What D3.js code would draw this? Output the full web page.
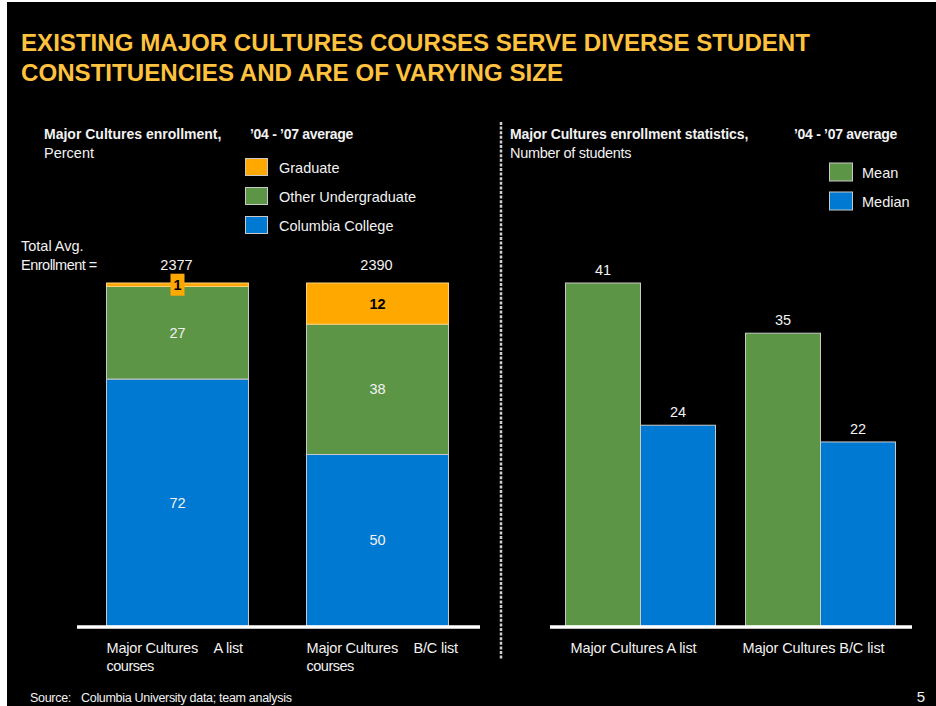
<!DOCTYPE html>
<html>
<head>
<meta charset="utf-8">
<script src="https://cdn.jsdelivr.net/npm/d3@7/dist/d3.min.js"></script>
<style>
  html, body { margin: 0; padding: 0; background: #ffffff; }
  svg { display: block; }
  text { font-family: "Liberation Sans", Arial, sans-serif; }
</style>
</head>
<body>
<svg id="chart" width="936" height="706"></svg>
<script>
// ---- Enrollment mix, percent of total (left panel) ----
const mixCourses = ["A list", "B/C list"];
const columbiaCollege = [72, 50];
const otherUndergraduate = [27, 38];
const graduate = [1, 12];
const totalEnrollment = [2377, 2390];

// ---- Enrollment statistics, number of students (right panel) ----
const statCourses = ["Major Cultures A list", "Major Cultures B/C list"];
const meanStudents = [41, 35];
const medianStudents = [24, 22];

const mixKeys = ["Columbia College", "Other Undergraduate", "Graduate"];
const statKeys = ["Mean", "Median"];

const colors = {
  "Graduate": "#FFA800",
  "Other Undergraduate": "#5C9545",
  "Columbia College": "#0079D2",
  "Mean": "#5C9545",
  "Median": "#0079D2"
};
const textColor = "#F2F2F2";
const outline = "#C9C9C9";

const svg = d3.select("#chart");

// slide background
svg.append("rect").attr("x", 7).attr("y", 2).attr("width", 929).attr("height", 704).attr("fill", "#000");

// headline
const titleLines = [
  { text: "EXISTING MAJOR CULTURES COURSES SERVE DIVERSE STUDENT", y: 51, w: 789 },
  { text: "CONSTITUENCIES AND ARE OF VARYING SIZE", y: 81, w: 542 }
];
svg.selectAll("text.title").data(titleLines).join("text")
  .attr("class", "title")
  .attr("x", 21).attr("y", d => d.y)
  .attr("textLength", d => d.w).attr("lengthAdjust", "spacingAndGlyphs")
  .attr("fill", "#FFC23E").attr("font-weight", "bold").attr("font-size", 23)
  .text(d => d.text);

function label(x, y, str, opts = {}) {
  return svg.append("text").attr("x", x).attr("y", y)
    .attr("fill", opts.fill || textColor)
    .attr("font-size", opts.size || 14.5)
    .attr("font-weight", opts.bold ? "bold" : null)
    .attr("text-anchor", opts.anchor || "start")
    .attr("letter-spacing", opts.ls != null ? opts.ls : 0)
    .text(str);
}

// ---------------- Left panel: stacked 100% bars ----------------
const yMix = d3.scaleLinear().domain([0, 100]).range([626, 283]);
const xMix = d3.scaleBand().domain(mixCourses).range([77.5, 477.5])
  .paddingInner(0.29).paddingOuter(0.145);

const mixRows = mixCourses.map((c, i) => ({
  course: c,
  "Columbia College": columbiaCollege[i],
  "Other Undergraduate": otherUndergraduate[i],
  "Graduate": graduate[i],
  total: totalEnrollment[i]
}));
const stacked = d3.stack().keys(mixKeys)(mixRows);

label(44, 139, "Major Cultures enrollment,", { bold: true, size: 14, ls: 0 });
label(250, 139, "\u201904 - \u201907 average", { bold: true, size: 14, ls: -0.3 });
label(44, 158, "Percent");

// legend (drawn top to bottom: Graduate, Other Undergraduate, Columbia College)
const mixLegend = mixKeys.slice().reverse();
const mixLegendY = d3.scalePoint().domain(mixLegend).range([167, 225]);
mixLegend.forEach(k => {
  svg.append("rect").attr("x", 245.5).attr("y", mixLegendY(k) - 8.5)
    .attr("width", 22).attr("height", 17)
    .attr("fill", colors[k]).attr("stroke", outline).attr("stroke-width", 1);
  label(279, mixLegendY(k) + 5.5, k);
});

const mixG = svg.append("g");
stacked.forEach(layer => {
  mixG.selectAll(null).data(layer).join("rect")
    .attr("x", d => xMix(d.data.course))
    .attr("width", xMix.bandwidth())
    .attr("y", d => yMix(d[1]))
    .attr("height", d => yMix(d[0]) - yMix(d[1]))
    .attr("fill", colors[layer.key])
    .attr("stroke", layer.key === "Graduate" ? "#FFD27A" : outline)
    .attr("stroke-width", 1);
});

// segment value labels
stacked.forEach(layer => {
  layer.forEach(d => {
    const v = d.data[layer.key];
    const cx = xMix(d.data.course) + xMix.bandwidth() / 2;
    const cy = (yMix(d[0]) + yMix(d[1])) / 2;
    if (layer.key === "Graduate") {
      if (yMix(d[0]) - yMix(d[1]) < 18) {
        // thin segment: value sits in a small tag
        svg.append("rect").attr("x", cx - 7).attr("y", cy - 11)
          .attr("width", 14).attr("height", 22).attr("fill", colors.Graduate);
      }
      label(cx, cy + 5, v, { bold: true, fill: "#000", anchor: "middle" });
    } else {
      label(cx, cy + 5, v, { anchor: "middle" });
    }
  });
});

// totals row
label(21, 251, "Total Avg.");
label(21, 270, "Enrollment =", { ls: -0.5 });
mixRows.forEach(r => {
  label(xMix(r.course) + xMix.bandwidth() / 2 - 1, 270, r.total, { anchor: "middle" });
});

// baseline and category labels
svg.append("line").attr("x1", 77).attr("x2", 480).attr("y1", 627).attr("y2", 627)
  .attr("stroke", "#fff").attr("stroke-width", 3.5);
mixCourses.forEach(c => {
  const x0 = xMix(c);
  label(x0, 653, "Major Cultures", { ls: -0.2 });
  label(x0 + 107, 653, c, { ls: -0.2 });
  label(x0, 671, "courses", { ls: -0.5 });
});

// divider
svg.append("line").attr("x1", 501).attr("x2", 501).attr("y1", 122).attr("y2", 659)
  .attr("stroke", "#D0D0D0").attr("stroke-width", 2.5).attr("stroke-dasharray", "3,1.6");

// ---------------- Right panel: grouped bars ----------------
const yStat = d3.scaleLinear().domain([0, d3.max(meanStudents)]).range([626, 283]);
const xStat = d3.scaleBand().domain(statCourses).range([550.5, 910.5])
  .paddingInner(30 / 180).paddingOuter(15 / 180);
const xInner = d3.scaleBand().domain(statKeys).range([0, xStat.bandwidth()]);

const statRows = statCourses.map((c, i) => ({ course: c, Mean: meanStudents[i], Median: medianStudents[i] }));

label(510, 139, "Major Cultures enrollment statistics,", { bold: true, size: 14, ls: -0.1 });
label(794, 139, "\u201904 - \u201907 average", { bold: true, size: 14, ls: -0.3 });
label(510, 158, "Number of students", { ls: -0.3 });

const statLegendY = d3.scalePoint().domain(statKeys).range([172, 201]);
statKeys.forEach(k => {
  svg.append("rect").attr("x", 829.5).attr("y", statLegendY(k) - 9)
    .attr("width", 23).attr("height", 18)
    .attr("fill", colors[k]).attr("stroke", outline).attr("stroke-width", 1);
  label(862, statLegendY(k) + 6, k);
});

const groups = svg.append("g").selectAll("g").data(statRows).join("g")
  .attr("transform", d => `translate(${xStat(d.course)},0)`);
groups.selectAll("rect").data(d => statKeys.map(k => ({ key: k, value: d[k] }))).join("rect")
  .attr("x", d => xInner(d.key))
  .attr("width", xInner.bandwidth())
  .attr("y", d => yStat(d.value))
  .attr("height", d => yStat(0) - yStat(d.value))
  .attr("fill", d => colors[d.key])
  .attr("stroke", outline).attr("stroke-width", 1);
groups.selectAll("text").data(d => statKeys.map(k => ({ key: k, value: d[k] }))).join("text")
  .attr("x", d => xInner(d.key) + xInner.bandwidth() / 2)
  .attr("y", d => yStat(d.value) - 8)
  .attr("text-anchor", "middle").attr("font-size", 14.5).attr("fill", textColor)
  .text(d => d.value);

svg.append("line").attr("x1", 550).attr("x2", 912).attr("y1", 627).attr("y2", 627)
  .attr("stroke", "#fff").attr("stroke-width", 3.5);
statCourses.forEach(c => {
  label(xStat(c) + xStat.bandwidth() / 2 - 7, 653, c, { anchor: "middle", ls: -0.1 });
});

// footer
label(30, 702, "Source:", { size: 12.5, ls: -0.3 });
label(81, 702, "Columbia University data; team analysis", { size: 12.5, ls: -0.3 });
label(925, 702, "5", { anchor: "end", size: 15 });
</script>
</body>
</html>
